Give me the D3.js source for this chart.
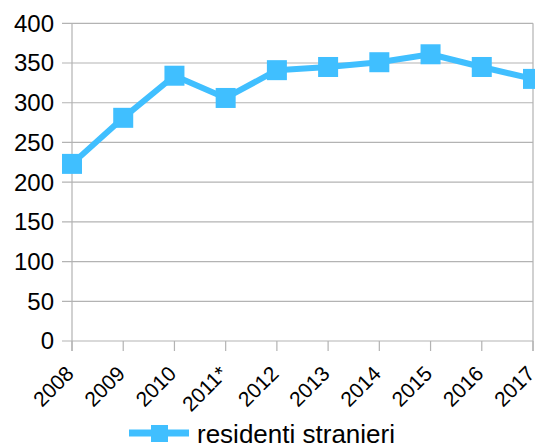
<!DOCTYPE html>
<html><head><meta charset="utf-8">
<script src="https://cdn.jsdelivr.net/npm/d3@7/dist/d3.min.js"></script>
<style>body{margin:0;background:#fff}svg{display:block}text{font-family:"Liberation Sans",Arial,sans-serif;fill:#000}</style>
</head><body>
<script>
const categories = ["2008","2009","2010","2011*","2012","2013","2014","2015","2016","2017"];
const values = [223, 281, 334, 306, 341, 345, 351, 361, 345, 330];
const yTicks = [0,50,100,150,200,250,300,350,400];
const seriesName = "residenti stranieri";
const color = "#40bfff";

const W = 535, H = 445;
const svg = d3.select("body").append("svg").attr("width", W).attr("height", H);
const pL = 72, pR = 533, pT = 23.3, pB = 341;

const x = d3.scalePoint().domain(categories).range([pL, pR]);
const y = d3.scaleLinear().domain([0, 400]).range([pB, pT]);

// gridlines
svg.append("g").selectAll("line").data(yTicks).join("line")
  .attr("x1", pL - 10).attr("x2", pR)
  .attr("y1", d => y(d)).attr("y2", d => y(d))
  .attr("stroke", "#b3b3b3").attr("stroke-width", 1.2);
// y labels
svg.append("g").selectAll("text").data(yTicks).join("text")
  .attr("x", 54).attr("y", d => y(d)).attr("dy", "0.35em")
  .attr("text-anchor", "end").style("font-size", "24px").text(d => d);
// left axis line and right border
svg.append("line").attr("x1", pL).attr("x2", pL).attr("y1", pT).attr("y2", pB + 10)
  .attr("stroke", "#b3b3b3").attr("stroke-width", 1.2);
svg.append("line").attr("x1", pR).attr("x2", pR).attr("y1", pT).attr("y2", pB + 10)
  .attr("stroke", "#b3b3b3").attr("stroke-width", 1.2);
// x ticks
svg.append("g").selectAll("line").data(categories).join("line")
  .attr("x1", d => x(d)).attr("x2", d => x(d)).attr("y1", pB).attr("y2", pB + 10)
  .attr("stroke", "#b3b3b3").attr("stroke-width", 1.2);
// x labels
svg.append("g").selectAll("text").data(categories).join("text")
  .attr("transform", d => `translate(${x(d) + 3},${375}) rotate(-45)`)
  .attr("text-anchor", "end").style("font-size", "21px").text(d => d);

// line
const line = d3.line().x((d, i) => x(categories[i])).y(d => y(d));
svg.append("path").datum(values).attr("d", line)
  .attr("fill", "none").attr("stroke", color).attr("stroke-width", 6).attr("stroke-linejoin", "round");
const ms = 20;
svg.append("g").selectAll("rect").data(values).join("rect")
  .attr("x", (d, i) => x(categories[i]) - ms / 2).attr("y", d => y(d) - ms / 2)
  .attr("width", ms).attr("height", ms).attr("fill", color);

// legend
const lg = svg.append("g");
lg.append("line").attr("x1", 129).attr("x2", 189).attr("y1", 433).attr("y2", 433)
  .attr("stroke", color).attr("stroke-width", 7);
lg.append("rect").attr("x", 151).attr("y", 425).attr("width", 17).attr("height", 17).attr("fill", color);
lg.append("text").attr("x", 197).attr("y", 443).style("font-size", "26px").text(seriesName);
</script>
</body></html>
